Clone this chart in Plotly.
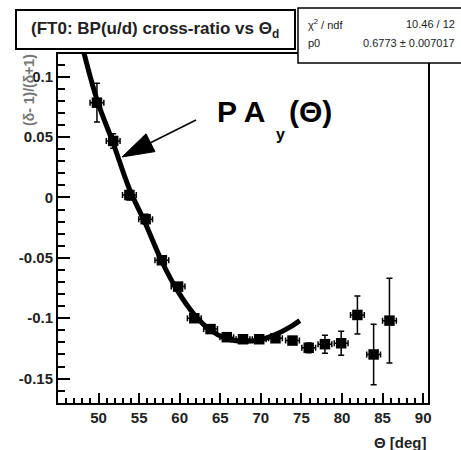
import plotly.graph_objects as go

# ---- data ----
theta = [49.8, 51.8, 53.8, 55.8, 57.8, 59.8, 61.8, 63.8, 65.8, 67.8,
         69.8, 71.8, 73.9, 75.9, 77.9, 79.9, 81.9, 83.9, 85.85]
ratio = [0.0785, 0.0468, 0.002, -0.018, -0.052, -0.0738, -0.100, -0.109, -0.1157, -0.1174,
         -0.1174, -0.1166, -0.1185, -0.1245, -0.1215, -0.1207, -0.0973, -0.130, -0.102]
ratio_err = [0.016, 0.006, 0.004, 0.004, 0.003, 0.003, 0.003, 0.003, 0.003, 0.003,
             0.003, 0.003, 0.003, 0.004, 0.0075, 0.010, 0.0157, 0.025, 0.035]
theta_err = [0.85] * len(theta)

fit_theta = [48.0, 49.8, 51.8, 53.8, 55.8, 57.8, 59.8, 61.8, 63.8, 65.8, 67.8, 69.8, 71.8, 73.8, 74.8]
fit_val = [0.125, 0.081, 0.045, 0.007, -0.022, -0.053, -0.078, -0.097, -0.110, -0.117, -0.119,
           -0.118, -0.1135, -0.1065, -0.102]

x_ticks = [50, 55, 60, 65, 70, 75, 80, 85, 90]
y_ticks = [-0.15, -0.1, -0.05, 0, 0.05, 0.1]
y_ticktext = ["-0.15", "-0.1", "-0.05", "0", "0.05", "0.1"]

chi2_text = "10.46 / 12"
p0_text = "0.6773 \u00b1 0.007017"

# ---- layout geometry (pixels) ----
W, H = 461, 450
L, R, T, B = 58, 428, 54, 403
PW, PH = R - L, B - T


def px(x):
    return (x - L) / PW


def py(y):
    return (B - y) / PH


FONT = "Liberation Sans, Arial, sans-serif"

fig = go.Figure()

fig.add_trace(go.Scatter(
    x=fit_theta, y=fit_val, mode="lines",
    line=dict(color="black", width=5, shape="spline"),
    hoverinfo="skip", showlegend=False))

fig.add_trace(go.Scatter(
    x=theta, y=ratio, mode="markers",
    marker=dict(symbol="square", size=10.5, color="black"),
    error_y=dict(type="data", array=ratio_err, color="black", thickness=1.5, width=3),
    error_x=dict(type="data", array=theta_err, color="black", thickness=1.5, width=3),
    showlegend=False))

axis_common = dict(
    showline=True, linecolor="black", linewidth=2, mirror=True,
    showgrid=False, zeroline=False,
    ticks="inside", tickcolor="black", tickwidth=1.5,
    tickfont=dict(family=FONT, size=15, color="#222", weight="bold"),
)

fig.update_xaxes(
    range=[45, 90.6], tickvals=x_ticks, ticklen=10,
    minor=dict(ticks="inside", dtick=1, tick0=45, ticklen=5, tickcolor="black", tickwidth=1.5),
    **axis_common)
fig.update_yaxes(
    range=[-0.1702, 0.1188], tickvals=y_ticks, ticktext=y_ticktext, ticklen=12,
    minor=dict(ticks="inside", dtick=0.01, tick0=0, ticklen=7, tickcolor="black", tickwidth=1.5),
    **axis_common)

shapes = [
    # title box
    dict(type="rect", xref="paper", yref="paper",
         x0=px(16), x1=px(295), y0=py(49), y1=py(10),
         line=dict(color="black", width=2), fillcolor="white", layer="above"),
    # stats box
    dict(type="rect", xref="paper", yref="paper",
         x0=px(298), x1=px(470), y0=py(63), y1=py(8),
         line=dict(color="black", width=1.5), fillcolor="white", layer="above"),
    # arrow head
    dict(type="path", xref="paper", yref="paper",
         path=f"M{px(122)},{py(157)} L{px(146)},{py(133.8)} L{px(155)},{py(151.6)} Z",
         line=dict(color="black", width=1), fillcolor="black", layer="above"),
    # arrow shaft
    dict(type="line", xref="paper", yref="paper",
         x0=px(196), y0=py(120), x1=px(150), y1=py(143),
         line=dict(color="black", width=1.5), layer="above"),
]

annotations = [
    dict(text="(FT0: BP(u/d) cross-ratio vs \u0398<sub>d</sub>", xref="paper", yref="paper",
         x=px(155), y=py(30), xanchor="center", yanchor="middle", showarrow=False,
         font=dict(family=FONT, size=17, color="#222", weight="bold")),
    dict(text="\u03c7<sup>2</sup> / ndf", xref="paper", yref="paper",
         x=px(306), y=py(24), xanchor="left", yanchor="middle", showarrow=False,
         font=dict(family=FONT, size=11, color="#222")),
    dict(text=chi2_text, xref="paper", yref="paper",
         x=px(457), y=py(24), xanchor="right", yanchor="middle", showarrow=False,
         font=dict(family=FONT, size=11, color="#222")),
    dict(text="p0", xref="paper", yref="paper",
         x=px(306), y=py(43), xanchor="left", yanchor="middle", showarrow=False,
         font=dict(family=FONT, size=11, color="#222")),
    dict(text=p0_text, xref="paper", yref="paper",
         x=px(457), y=py(43), xanchor="right", yanchor="middle", showarrow=False,
         font=dict(family=FONT, size=11, color="#222")),
    dict(text="\u0398 [deg]", xref="paper", yref="paper",
         x=px(429), y=py(442), xanchor="right", yanchor="middle", showarrow=False,
         font=dict(family=FONT, size=15, color="#222", weight="bold")),
    dict(text="(\u03b4- 1)/(\u03b4+1)", xref="paper", yref="paper", textangle=-90,
         x=px(29), y=py(52), xanchor="center", yanchor="top", showarrow=False,
         font=dict(family=FONT, size=14, color="#777", weight="bold")),
    dict(text="P A", xref="paper", yref="paper",
         x=px(215), y=py(111), xanchor="left", yanchor="middle", showarrow=False,
         font=dict(family=FONT, size=30, color="black", weight="bold")),
    dict(text="y", xref="paper", yref="paper",
         x=px(274), y=py(134), xanchor="left", yanchor="middle", showarrow=False,
         font=dict(family=FONT, size=16, color="black", weight="bold")),
    dict(text="(\u0398)", xref="paper", yref="paper",
         x=px(287), y=py(111), xanchor="left", yanchor="middle", showarrow=False,
         font=dict(family=FONT, size=30, color="black", weight="bold")),
]

fig.update_layout(
    width=W, height=H,
    margin=dict(l=L, r=W - R, t=T, b=H - B, pad=0),
    paper_bgcolor="white", plot_bgcolor="white",
    shapes=shapes, annotations=annotations,
    showlegend=False,
)

fig.write_html("out.html")
